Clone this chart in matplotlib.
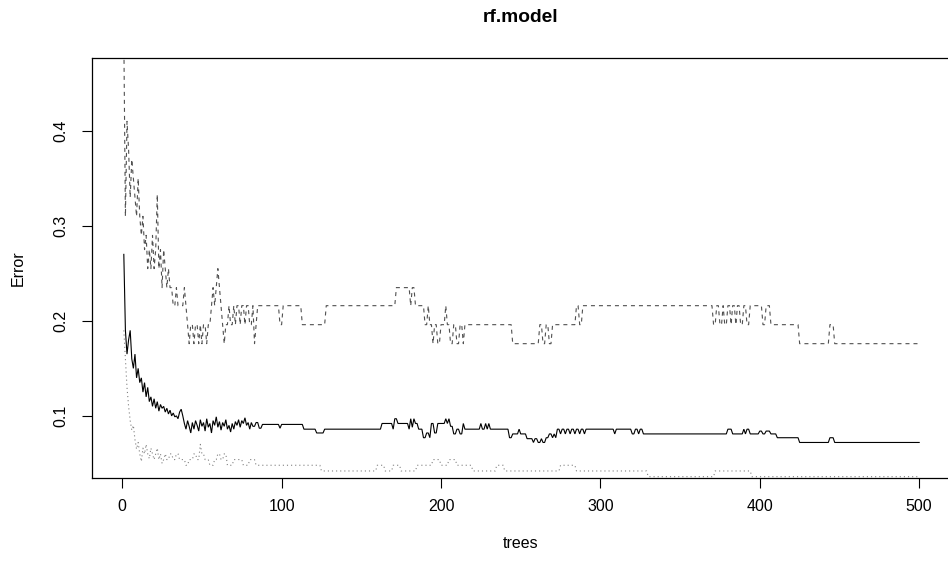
import numpy as np
import matplotlib
matplotlib.use("Agg")
import matplotlib.pyplot as plt

# error rate curves: (first tree, value) change points,
# each value holds until the next change point
oob_steps = [
    (1, 0.270), (2, 0.190), (3, 0.165), (4, 0.180), (5, 0.190), (6, 0.160),
    (7, 0.150), (8, 0.165), (9, 0.140), (10, 0.150), (11, 0.135), (12, 0.140),
    (13, 0.125), (14, 0.135), (15, 0.120), (16, 0.130), (17, 0.115), (18, 0.120),
    (19, 0.110), (20, 0.118), (21, 0.108), (22, 0.115), (23, 0.105), (24, 0.112),
    (25, 0.108), (26, 0.110), (27, 0.104), (28, 0.108), (29, 0.102), (30, 0.106),
    (31, 0.100), (32, 0.103), (33, 0.099), (34, 0.100), (35, 0.097), (36, 0.104),
    (37, 0.107), (38, 0.100), (39, 0.092), (40, 0.086), (41, 0.095), (42, 0.089),
    (43, 0.082), (44, 0.093), (45, 0.086), (46, 0.095), (47, 0.090), (48, 0.084),
    (49, 0.096), (50, 0.089), (51, 0.093), (52, 0.084), (53, 0.097), (54, 0.088),
    (55, 0.092), (56, 0.082), (57, 0.095), (58, 0.090), (59, 0.099), (60, 0.088),
    (61, 0.094), (62, 0.085), (63, 0.093), (64, 0.089), (65, 0.096), (66, 0.086),
    (67, 0.090), (68, 0.083), (69, 0.092), (70, 0.086), (71, 0.094), (72, 0.090),
    (73, 0.096), (74, 0.088), (75, 0.095), (76, 0.092), (77, 0.098), (78, 0.090),
    (79, 0.093), (80, 0.086), (81, 0.093), (82, 0.089), (84, 0.093), (86, 0.087),
    (88, 0.091), (99, 0.087), (100, 0.091), (114, 0.086), (122, 0.082),
    (127, 0.086), (163, 0.092), (170, 0.086), (171, 0.097), (173, 0.092),
    (180, 0.086), (181, 0.097), (182, 0.088), (183, 0.097), (184, 0.092),
    (186, 0.086), (189, 0.077), (191, 0.082), (193, 0.077), (194, 0.092),
    (196, 0.082), (198, 0.092), (203, 0.097), (204, 0.092), (205, 0.097),
    (206, 0.089), (208, 0.081), (210, 0.086), (212, 0.081), (214, 0.092),
    (215, 0.086), (225, 0.092), (226, 0.086), (228, 0.092), (229, 0.086),
    (230, 0.092), (231, 0.086), (243, 0.077), (245, 0.081), (249, 0.086),
    (250, 0.081), (254, 0.076), (258, 0.072), (259, 0.076), (261, 0.072),
    (263, 0.076), (264, 0.072), (266, 0.077), (268, 0.081), (270, 0.077),
    (271, 0.081), (272, 0.077), (273, 0.086), (275, 0.081), (276, 0.086),
    (278, 0.081), (279, 0.086), (281, 0.081), (282, 0.086), (284, 0.081),
    (285, 0.086), (287, 0.081), (288, 0.086), (290, 0.081), (291, 0.086),
    (309, 0.081), (310, 0.086), (320, 0.081), (322, 0.086), (324, 0.081),
    (325, 0.086), (327, 0.081), (380, 0.086), (383, 0.081), (390, 0.086),
    (391, 0.081), (392, 0.086), (394, 0.081), (400, 0.084), (402, 0.081),
    (404, 0.084), (407, 0.081), (411, 0.077), (425, 0.072), (444, 0.077),
    (447, 0.072),
]

class1_steps = [
    (1, 0.500), (2, 0.310), (3, 0.410), (4, 0.380), (5, 0.330), (6, 0.370),
    (7, 0.350), (8, 0.330), (9, 0.310), (10, 0.350), (11, 0.310), (12, 0.290),
    (13, 0.310), (14, 0.275), (15, 0.290), (16, 0.255), (17, 0.275), (18, 0.255),
    (19, 0.290), (20, 0.255), (21, 0.275), (22, 0.333), (23, 0.255), (24, 0.275),
    (25, 0.235), (26, 0.275), (27, 0.255), (28, 0.235), (29, 0.255), (30, 0.235),
    (32, 0.216), (34, 0.235), (35, 0.216), (39, 0.235), (40, 0.216), (41, 0.196),
    (42, 0.176), (43, 0.196), (45, 0.176), (46, 0.196), (48, 0.176), (49, 0.196),
    (50, 0.176), (51, 0.196), (53, 0.176), (54, 0.196), (56, 0.216), (57, 0.235),
    (58, 0.216), (59, 0.235), (60, 0.255), (61, 0.235), (62, 0.216), (63, 0.196),
    (64, 0.176), (65, 0.196), (67, 0.216), (68, 0.196), (70, 0.216), (71, 0.196),
    (72, 0.216), (74, 0.196), (75, 0.216), (77, 0.196), (78, 0.216), (80, 0.196),
    (82, 0.216), (83, 0.176), (84, 0.196), (85, 0.216), (99, 0.196), (101, 0.216),
    (113, 0.196), (128, 0.216), (172, 0.235), (181, 0.216), (182, 0.235),
    (184, 0.216), (190, 0.196), (192, 0.216), (193, 0.196), (195, 0.176),
    (196, 0.196), (198, 0.176), (200, 0.196), (203, 0.216), (204, 0.196),
    (206, 0.176), (208, 0.196), (210, 0.176), (212, 0.196), (214, 0.176),
    (215, 0.196), (245, 0.176), (262, 0.196), (264, 0.176), (266, 0.196),
    (268, 0.176), (270, 0.196), (285, 0.216), (287, 0.196), (289, 0.216),
    (371, 0.196), (373, 0.216), (375, 0.196), (377, 0.216), (378, 0.196),
    (380, 0.216), (382, 0.196), (383, 0.216), (385, 0.196), (386, 0.216),
    (388, 0.196), (390, 0.216), (392, 0.196), (394, 0.216), (402, 0.196),
    (404, 0.216), (407, 0.196), (425, 0.176), (444, 0.196), (447, 0.176),
]

class2_steps = [
    (1, 0.190), (2, 0.160), (3, 0.130), (4, 0.110), (5, 0.095), (6, 0.085),
    (7, 0.090), (8, 0.075), (9, 0.065), (10, 0.072), (11, 0.060), (12, 0.052),
    (13, 0.066), (14, 0.060), (15, 0.070), (16, 0.060), (17, 0.055), (18, 0.066),
    (19, 0.060), (20, 0.054), (21, 0.060), (22, 0.066), (23, 0.054), (24, 0.060),
    (25, 0.050), (26, 0.054), (27, 0.060), (28, 0.054), (30, 0.060), (32, 0.054),
    (34, 0.060), (36, 0.054), (40, 0.048), (42, 0.054), (45, 0.060), (47, 0.054),
    (49, 0.070), (50, 0.060), (52, 0.054), (55, 0.048), (58, 0.054), (60, 0.060),
    (62, 0.054), (64, 0.060), (66, 0.048), (70, 0.054), (76, 0.048), (80, 0.054),
    (84, 0.048), (125, 0.042), (160, 0.048), (165, 0.042), (170, 0.048),
    (175, 0.042), (185, 0.048), (195, 0.054), (200, 0.048), (205, 0.054),
    (210, 0.048), (220, 0.042), (235, 0.048), (240, 0.042), (275, 0.048),
    (285, 0.042), (330, 0.036), (372, 0.042), (395, 0.036),
]

n_trees = 500
trees = np.arange(1, n_trees + 1)


def expand(steps):
    starts = [s for s, _ in steps] + [n_trees + 1]
    vals = [v for _, v in steps]
    return np.repeat(vals, np.diff(starts))


oob = expand(oob_steps)
class1 = expand(class1_steps)
class2 = expand(class2_steps)

plt.rcParams['font.family'] = ['Liberation Sans', 'DejaVu Sans']

W, H = 948, 572
fig = plt.figure(figsize=(W / 100, H / 100), dpi=100)
# plot frame in pixels: left 92, right 951 (just past the edge), top 58, bottom 478
ax = fig.add_axes([92 / W, (H - 478) / H, (951 - 92) / W, (478 - 58) / H])

lw = 0.8
ax.plot(trees, oob, color='black', lw=lw, solid_joinstyle='miter')
ax.plot(trees, class1, color='#505050', lw=lw, dashes=(3.6, 3.6))
ax.plot(trees, class2, color='#808080', lw=lw, dashes=(1.0, 2.7))

ax.set_xlim(1 - 0.04 * 499, 500 + 0.04 * 499)
ax.set_ylim(0.0346, 0.4767)
ax.set_xticks([0, 100, 200, 300, 400, 500])
ax.set_yticks([0.1, 0.2, 0.3, 0.4])
ax.set_yticklabels(['0.1', '0.2', '0.3', '0.4'], rotation=90, va='center')

for s in ax.spines.values():
    s.set_linewidth(0.9)
ax.tick_params(direction='out', length=7, width=0.8, labelsize=11.5)
ax.tick_params(axis='x', pad=8)
ax.tick_params(axis='y', pad=10)

fig.text(521 / W, 1 - 18 / H, 'rf.model', fontsize=13.8, fontweight='bold',
         ha='center', va='center')
fig.text(521 / W, 1 - 543 / H, 'trees', fontsize=11.5, ha='center', va='center')
fig.text(18 / W, 1 - 268 / H, 'Error', fontsize=11.5, rotation=90,
         ha='center', va='center')

fig.savefig('out.png', dpi=100)
